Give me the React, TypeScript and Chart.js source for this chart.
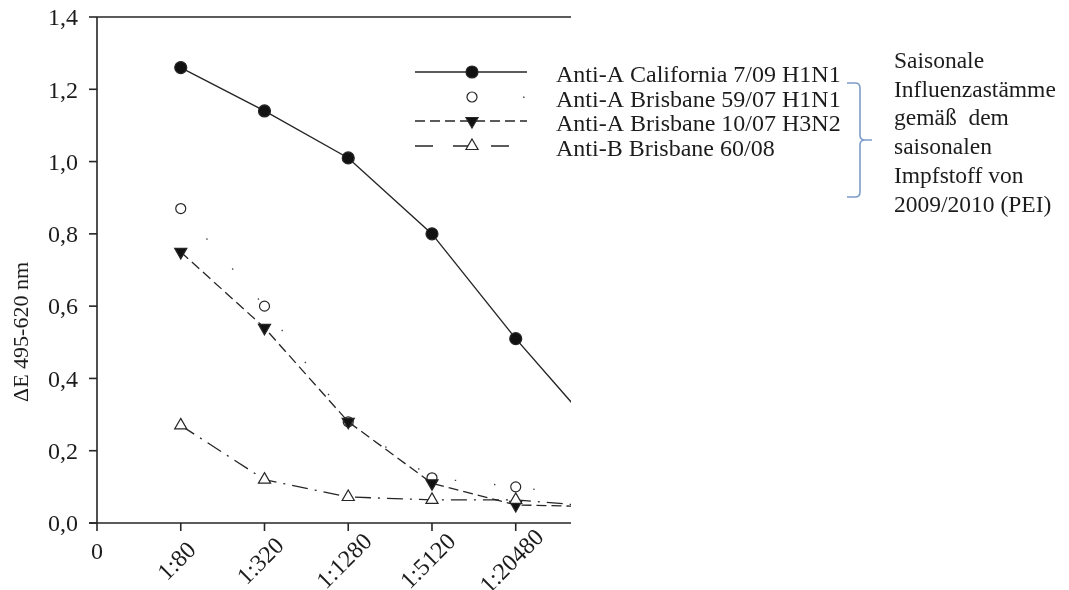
import React, { useEffect, useRef } from "react";
import { Chart, registerables } from "chart.js";

Chart.register(...registerables);

// ---- data ----
const xTickLabels = ["0", "1:80", "1:320", "1:1280", "1:5120", "1:20480"];
// dilution step index (1 = 1:80 ... 5 = 1:20480, 6 = next step 1:81920, beyond visible axis)
const dilutionSteps = [1, 2, 3, 4, 5, 6];
const californiaH1N1 = [1.26, 1.14, 1.01, 0.8, 0.51, 0.245];
const brisbane5907H1N1 = [0.87, 0.6, 0.28, 0.125, 0.1, 0.07];
const brisbane1007H3N2 = [0.75, 0.54, 0.28, 0.11, 0.05, 0.045];
const brisbane6008B = [0.27, 0.12, 0.072, 0.064, 0.064, 0.045];
const yTicks = [0, 0.2, 0.4, 0.6, 0.8, 1.0, 1.2, 1.4];
const seriesNames = [
  "Anti-A California 7/09 H1N1",
  "Anti-A Brisbane 59/07 H1N1",
  "Anti-A Brisbane 10/07 H3N2",
  "Anti-B Brisbane 60/08",
];
const bracketNote = [
  "Saisonale",
  "Influenzastämme",
  "gemäß  dem",
  "saisonalen",
  "Impfstoff von",
  "2009/2010 (PEI)",
];
const yTitle = "ΔE 495-620 nm";

const FONT = '"Liberation Serif", "Times New Roman", serif';
const INK = "#1c1c1c";
const LINE = "#262626";

type MarkerKind = "dot" | "ring" | "down" | "up";

function drawMarker(ctx: CanvasRenderingContext2D, kind: MarkerKind, x: number, y: number) {
  ctx.save();
  ctx.setLineDash([]);
  ctx.lineWidth = 1.2;
  ctx.strokeStyle = LINE;
  if (kind === "dot" || kind === "ring") {
    const r = kind === "dot" ? 6 : 5;
    ctx.beginPath();
    ctx.arc(x, y, r, 0, Math.PI * 2);
    ctx.fillStyle = kind === "dot" ? "#111" : "#fff";
    ctx.fill();
    ctx.stroke();
  } else {
    const r = 7;
    const dir = kind === "up" ? -1 : 1;
    ctx.beginPath();
    ctx.moveTo(x, y + dir * r);
    ctx.lineTo(x + r * Math.sin((2 * Math.PI) / 3), y - dir * r * 0.5);
    ctx.lineTo(x - r * Math.sin((2 * Math.PI) / 3), y - dir * r * 0.5);
    ctx.closePath();
    ctx.fillStyle = kind === "down" ? "#111" : "#fff";
    ctx.fill();
    ctx.stroke();
  }
  ctx.restore();
}

const seriesStyles: { kind: MarkerKind; dash: number[]; width: number; color: string }[] = [
  { kind: "dot", dash: [], width: 1.4, color: LINE },
  { kind: "ring", dash: [1.5, 38], width: 1.3, color: "#444" },
  { kind: "down", dash: [10, 5], width: 1.3, color: LINE },
  { kind: "up", dash: [16, 7, 2, 7], width: 1.3, color: LINE },
];

const decorPlugin = {
  id: "decor",
  afterDraw(chart: any) {
    const { ctx, chartArea: a } = chart;
    const xs = chart.scales.x;
    const ys = chart.scales.y;
    ctx.save();
    ctx.strokeStyle = "#262626";
    ctx.lineWidth = 1.6;
    ctx.setLineDash([]);
    ctx.beginPath();
    ctx.moveTo(a.left, a.top);
    ctx.lineTo(a.right, a.top);
    ctx.moveTo(a.left, a.top);
    ctx.lineTo(a.left, a.bottom);
    ctx.moveTo(a.left - 8, a.bottom);
    ctx.lineTo(a.right, a.bottom);
    ctx.stroke();

    // y ticks + labels
    ctx.fillStyle = INK;
    ctx.font = `24px ${FONT}`;
    ctx.textAlign = "right";
    ctx.textBaseline = "middle";
    yTicks.forEach((v) => {
      const py = ys.getPixelForValue(v);
      ctx.beginPath();
      ctx.moveTo(a.left - 8, py);
      ctx.lineTo(a.left, py);
      ctx.stroke();
      ctx.fillText(v.toFixed(1).replace(".", ","), a.left - 19, py + 2);
    });

    // x ticks + labels
    xTickLabels.forEach((lab, i) => {
      const px = xs.getPixelForValue(i);
      ctx.beginPath();
      ctx.moveTo(px, a.bottom);
      ctx.lineTo(px, a.bottom + 8);
      ctx.stroke();
      if (i === 0) {
        ctx.textAlign = "center";
        ctx.textBaseline = "middle";
        ctx.fillText(lab, px, a.bottom + 30);
      } else {
        ctx.save();
        ctx.translate(px - 3, a.bottom + 39);
        ctx.rotate(-Math.PI / 4);
        ctx.textAlign = "center";
        ctx.textBaseline = "middle";
        ctx.fillText(lab, 0, 0);
        ctx.restore();
      }
    });

    // y title
    ctx.save();
    ctx.translate(22, 332);
    ctx.rotate(-Math.PI / 2);
    ctx.textAlign = "center";
    ctx.textBaseline = "middle";
    ctx.font = `22px ${FONT}`;
    ctx.fillText(yTitle, 0, 0);
    ctx.restore();

    // legend
    const legendY = [72, 97, 121, 146];
    seriesStyles.forEach((s, i) => {
      const ly = legendY[i];
      ctx.save();
      ctx.strokeStyle = s.color;
      ctx.lineWidth = s.width;
      if (s.kind === "ring") {
        ctx.fillStyle = "#555";
        ctx.fillRect(523, ly - 0.5, 1.5, 1.5);
      } else {
        ctx.setLineDash(s.kind === "up" ? [18, 20] : s.dash);
        ctx.beginPath();
        ctx.moveTo(415, ly);
        ctx.lineTo(527, ly);
        ctx.stroke();
      }
      ctx.restore();
      drawMarker(ctx, s.kind, 472, ly);
      ctx.fillStyle = INK;
      ctx.font = `24px ${FONT}`;
      ctx.textAlign = "left";
      ctx.textBaseline = "alphabetic";
      ctx.fillText(seriesNames[i], 556, ly + 10);
    });

    // bracket
    ctx.save();
    ctx.strokeStyle = "#7d9cc9";
    ctx.lineWidth = 1.6;
    ctx.setLineDash([]);
    ctx.beginPath();
    ctx.moveTo(847, 83);
    ctx.lineTo(855, 83);
    ctx.quadraticCurveTo(860, 83, 860, 88);
    ctx.lineTo(860, 135);
    ctx.quadraticCurveTo(860, 140, 865, 140);
    ctx.lineTo(872, 140);
    ctx.moveTo(865, 140);
    ctx.quadraticCurveTo(860, 140, 860, 145);
    ctx.lineTo(860, 192);
    ctx.quadraticCurveTo(860, 197, 855, 197);
    ctx.lineTo(847, 197);
    ctx.stroke();
    ctx.restore();

    // note text
    ctx.fillStyle = INK;
    ctx.font = `23.5px ${FONT}`;
    ctx.textAlign = "left";
    ctx.textBaseline = "alphabetic";
    bracketNote.forEach((t, i) => {
      ctx.fillText(t, 894, 68 + i * 28.7);
    });

    ctx.restore();
  },
};

export default function App() {
  const ref = useRef<HTMLCanvasElement | null>(null);
  useEffect(() => {
    if (!ref.current) return;
    const mk = (vals: number[], i: number) => {
      const s = seriesStyles[i];
      const isRing = s.kind === "ring";
      const isUp = s.kind === "up";
      const isDown = s.kind === "down";
      return {
        label: seriesNames[i],
        data: dilutionSteps.map((x, k) => ({ x, y: vals[k] })),
        borderColor: s.color,
        borderWidth: s.width,
        borderDash: s.dash,
        tension: 0,
        fill: false,
        pointStyle: s.kind === "dot" || isRing ? "circle" : "triangle",
        pointRotation: isDown ? 180 : 0,
        pointRadius: s.kind === "dot" ? 6 : isRing ? 5 : 7,
        pointBackgroundColor: isRing || isUp ? "#fff" : "#111",
        pointBorderColor: LINE,
        pointBorderWidth: 1.2,
      };
    };
    const chart = new Chart(ref.current, {
      type: "line",
      data: {
        // first dataset is painted on top
        datasets: [
          mk(brisbane6008B, 3),
          mk(brisbane1007H3N2, 2),
          mk(brisbane5907H1N1, 1),
          mk(californiaH1N1, 0),
        ] as any,
      },
      options: {
        responsive: false,
        animation: false,
        layout: { padding: { left: 97, top: 17, right: 498, bottom: 67 } },
        scales: {
          x: { type: "linear", min: 0, max: 5.66, display: false },
          y: { type: "linear", min: 0, max: 1.4, display: false },
        },
        plugins: { legend: { display: false }, tooltip: { enabled: false } },
        events: [],
      },
      plugins: [decorPlugin],
    });
    return () => chart.destroy();
  }, []);
  return (
    <div style={{ position: "absolute", left: 0, top: 0, width: 1069, height: 590, background: "#fff" }}>
      <canvas ref={ref} width={1069} height={590} style={{ width: 1069, height: 590, display: "block" }} />
    </div>
  );
}
